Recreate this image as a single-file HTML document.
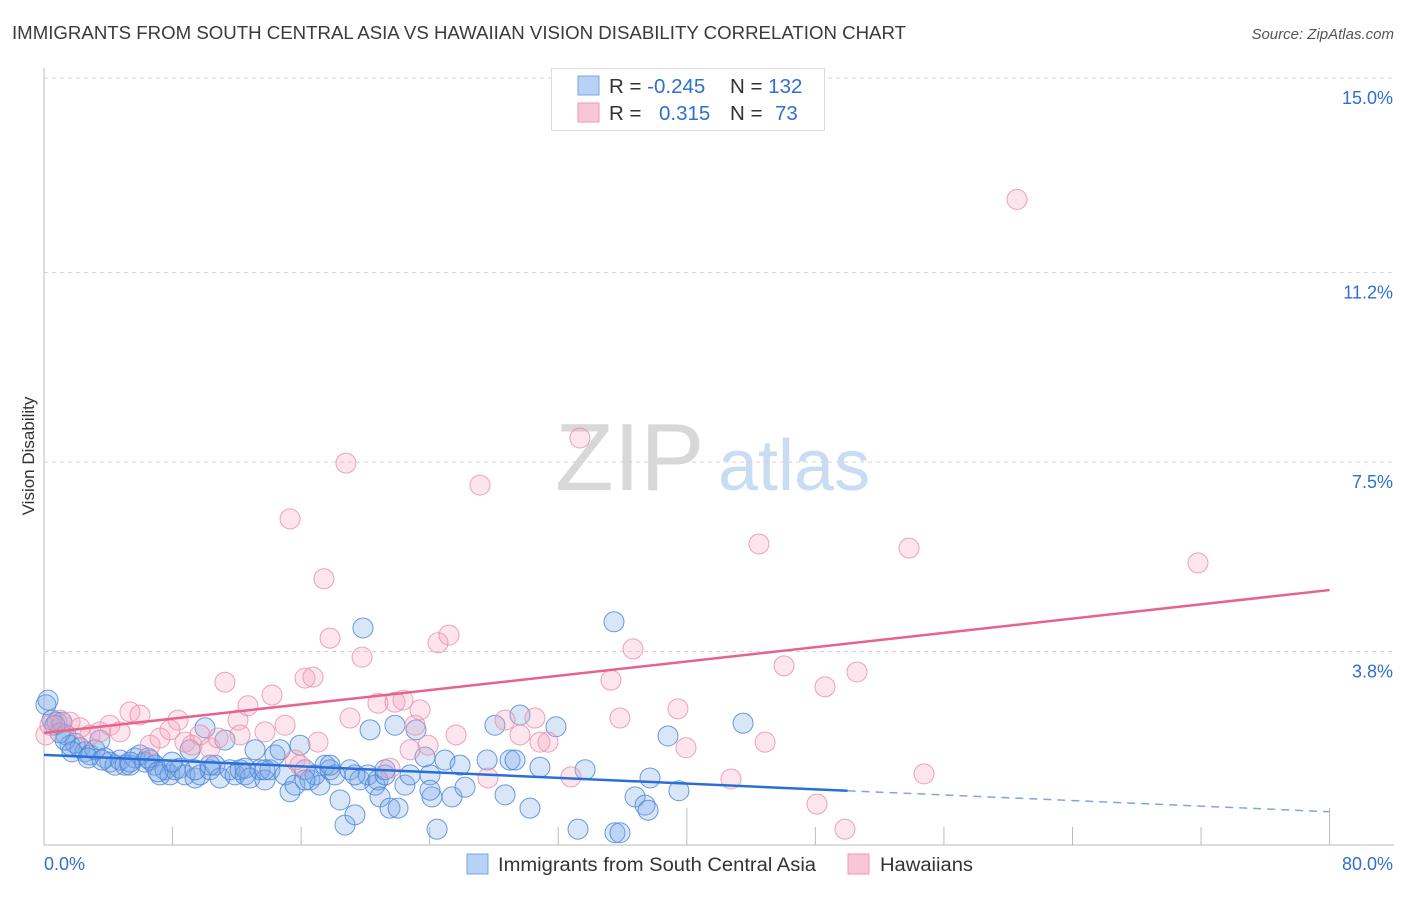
<!DOCTYPE html>
<html><head><meta charset="utf-8">
<style>
body{margin:0;background:#fff;font-family:"Liberation Sans",sans-serif;}
svg text{font-family:"Liberation Sans",sans-serif;}
</style></head>
<body>
<svg id="chart" width="1406" height="892" viewBox="0 0 1406 892">
<text x="12" y="39" font-size="18" fill="#3a3a3a" textLength="894" lengthAdjust="spacingAndGlyphs">IMMIGRANTS FROM SOUTH CENTRAL ASIA VS HAWAIIAN VISION DISABILITY CORRELATION CHART</text>
<text x="1394" y="39" font-size="15" fill="#555" font-style="italic" text-anchor="end">Source: ZipAtlas.com</text>
<g>
<text x="555" y="490" font-size="96" fill="#d8d8d8" font-family="Liberation Serif, serif">ZIP</text>
<text x="718" y="490" font-size="72" fill="#c9dcf3">atlas</text>
</g>
<g id="grid"></g>
<g id="axes"></g>
<text transform="translate(34,456) rotate(-90)" font-size="17" fill="#333" text-anchor="middle">Vision Disability</text>
<g id="pts"></g>
<g id="trend"></g>
<g>
<rect x="551.5" y="68.5" width="273" height="62" fill="#fff" stroke="#ddd"/>
<rect x="578" y="76" width="21" height="19" fill="#b7d2f5" stroke="#7aa6e0"/>
<rect x="578" y="103" width="21" height="19" fill="#f9c6d5" stroke="#eb9bb4"/>
<text x="609" y="93" font-size="20.5" fill="#333">R = <tspan fill="#2f6fd0">-0.245</tspan></text>
<text x="730" y="93" font-size="20.5" fill="#333">N = <tspan fill="#2f6fd0">132</tspan></text>
<text x="609" y="120" font-size="20.5" fill="#333">R = </text>
<text x="659" y="120" font-size="20.5" fill="#2f6fd0">0.315</text>
<text x="730" y="120" font-size="20.5" fill="#333">N = </text>
<text x="775" y="120" font-size="20.5" fill="#2f6fd0">73</text>
</g>
<g>
<rect x="467" y="854" width="21" height="20" fill="#b7d2f5" stroke="#7aa6e0"/>
<text x="498" y="871" font-size="19" fill="#333" textLength="318" lengthAdjust="spacingAndGlyphs">Immigrants from South Central Asia</text>
<rect x="848" y="854" width="21" height="20" fill="#f9c6d5" stroke="#eb9bb4"/>
<text x="880" y="871" font-size="19" fill="#333" textLength="93" lengthAdjust="spacingAndGlyphs">Hawaiians</text>
</g>
</svg>
<script>
const yTicks=[3.8,7.5,11.2,15.0];
const yTickLabels=["3.8%","7.5%","11.2%","15.0%"];
const xTicks=[0,8,16,24,32,40,48,56,64,72,80];
const xEndLabels=["0.0%","80.0%"];
const blueX=[0.12,0.5,0.81,1.12,1.37,1.62,1.93,2.24,2.55,2.86,3.17,3.48,3.8,4.1,4.42,4.73,5.04,5.35,5.66,5.97,6.28,6.6,6.9,7.22,7.53,7.84,8.15,8.46,8.77,9.09,9.4,9.71,10.02,10.33,10.64,10.95,11.26,11.57,11.89,12.2,12.51,12.82,13.13,13.44,13.75,14.06,14.37,14.69,15.0,15.31,15.62,15.93,16.24,16.55,16.86,17.17,17.49,17.8,18.11,18.42,18.73,19.04,19.35,19.66,19.85,20.16,20.29,20.6,20.78,20.91,21.22,21.53,21.84,22.03,22.46,22.78,23.15,23.71,24.02,24.14,24.46,24.95,25.39,25.89,26.2,27.57,28.06,28.69,29.0,29.31,29.62,30.24,30.86,31.86,33.23,33.67,35.47,35.53,35.84,36.78,37.4,37.59,37.71,38.83,39.51,43.5,0.25,0.68,1.0,1.31,1.74,2.74,3.61,5.35,6.47,7.09,7.97,9.4,10.33,12.51,13.75,16.24,17.8,19.35,21.22,24.02];
const blueY=[3.13,2.83,2.79,2.79,2.54,2.34,2.38,2.29,2.21,2.15,2.25,2.44,2.09,2.01,1.95,2.05,1.95,1.95,2.09,2.15,2.01,2.05,1.95,1.76,1.86,1.76,1.86,1.89,1.76,2.25,1.7,1.76,2.68,1.86,1.95,1.7,2.44,1.86,1.76,1.86,1.76,1.7,2.25,1.86,1.66,1.86,2.15,2.25,1.76,1.43,1.56,2.34,1.86,1.66,1.76,1.56,1.95,1.86,1.76,1.27,0.78,1.86,0.98,1.66,4.63,1.76,2.64,1.56,1.66,1.33,1.76,1.11,2.73,1.11,1.56,1.76,2.64,2.11,1.76,1.33,0.7,2.05,1.33,1.95,1.52,2.05,2.73,1.37,2.05,2.05,2.93,1.11,1.91,2.7,0.7,1.86,4.75,0.63,0.63,1.33,1.17,1.07,1.7,2.52,1.45,2.77,3.22,2.73,2.58,2.44,2.21,2.09,2.05,2.01,2.09,1.82,2.01,1.86,1.95,1.89,1.86,1.66,1.95,1.76,1.86,1.46];
const pinkX=[0.12,0.37,1.0,1.62,2.24,2.86,3.48,4.1,4.73,5.35,5.97,6.6,7.22,7.84,8.34,8.77,9.21,9.71,10.33,10.83,11.26,12.07,12.2,12.69,13.75,14.19,15.0,15.31,15.62,15.93,16.24,16.74,17.05,17.42,17.8,18.79,19.04,19.79,20.78,21.53,21.84,22.34,22.78,23.09,23.4,23.9,24.52,25.2,25.64,27.13,27.63,28.69,29.62,30.55,30.86,31.36,32.79,33.35,35.28,35.84,36.65,39.45,39.95,42.75,44.49,44.87,46.05,48.1,48.6,49.84,50.59,53.83,54.76,60.55,71.81];
const pinkY=[2.54,2.73,2.83,2.79,2.68,2.54,2.6,2.73,2.6,2.99,2.93,2.34,2.48,2.64,2.83,2.4,2.34,2.54,2.29,2.48,3.57,2.83,2.54,3.11,2.6,3.32,2.73,6.76,2.05,1.95,3.65,3.67,2.4,5.59,4.43,7.85,2.87,4.06,3.16,1.89,3.18,3.22,2.25,2.73,3.03,2.34,4.34,4.49,2.54,7.42,1.7,2.83,2.54,2.87,2.4,2.4,1.72,8.34,3.61,2.87,4.22,3.05,2.29,1.68,6.27,2.4,3.89,1.19,3.48,0.7,3.77,6.19,1.78,13.0,5.9];
const blueTrendX=[0,50,80];
const blueTrendY=[2.15,1.45,1.04];
const pinkTrendX=[0,80];
const pinkTrendY=[2.58,5.37];

const NS="http://www.w3.org/2000/svg";
const xS=v=>44+16.07*v;
const yS=v=>865-51.2*v;
function mk(tag,attrs,parent){const e=document.createElementNS(NS,tag);for(const k in attrs)e.setAttribute(k,attrs[k]);parent.appendChild(e);return e;}
const grid=document.getElementById('grid'),axes=document.getElementById('axes'),pts=document.getElementById('pts'),trend=document.getElementById('trend');
yTicks.forEach((t,i)=>{
  const l=mk('line',{x1:44,x2:1394,y1:yS(t)-19,y2:yS(t)-19,stroke:'#d5d5d5','stroke-dasharray':'4,4'},grid);
  
  
  const tx=mk('text',{x:1393,y:yS(t)+7,'font-size':18,fill:'#2f6fd0','text-anchor':'end'},grid);
  tx.textContent=yTickLabels[i];
  
  
});
const ax=mk('line',{x1:44,x2:44,y1:68,y2:845,stroke:'#bbb'},axes);


const bx=mk('line',{x1:44,x2:1394,y1:845,y2:845,stroke:'#bbb'},axes);


xTicks.forEach((t,i)=>{
  const tall=(i===5||i===10);
  const tk=mk('line',{x1:xS(t),x2:xS(t),y1:tall?808:827,y2:845,stroke:'#bbb'},axes);
  
  
});
const xl0=mk('text',{x:44,y:870,'font-size':18,fill:'#2f6fd0'},axes);xl0.textContent=xEndLabels[0];


const xl1=mk('text',{x:1393,y:870,'font-size':18,fill:'#2f6fd0','text-anchor':'end'},axes);xl1.textContent=xEndLabels[1];


blueX.forEach((x,i)=>{
  const c=mk('circle',{cx:xS(x),cy:yS(blueY[i]),r:10,fill:'rgba(120,165,230,0.28)',stroke:'rgba(70,130,215,0.8)','stroke-width':1},pts);
  
  
});
pinkX.forEach((x,i)=>{
  const c=mk('circle',{cx:xS(x),cy:yS(pinkY[i]),r:10,fill:'rgba(245,160,190,0.28)',stroke:'rgba(232,140,170,0.8)','stroke-width':1},pts);
  
  
});
const b1=mk('line',{x1:xS(blueTrendX[0]),y1:yS(blueTrendY[0]),x2:xS(blueTrendX[1]),y2:yS(blueTrendY[1]),stroke:'#2a6fd6','stroke-width':2.5},trend);


const b2=mk('line',{x1:xS(blueTrendX[1]),y1:yS(blueTrendY[1]),x2:xS(blueTrendX[2]),y2:yS(blueTrendY[2]),stroke:'#7fa6dd','stroke-width':1.5,'stroke-dasharray':'8,6'},trend);


const p1=mk('line',{x1:xS(pinkTrendX[0]),y1:yS(pinkTrendY[0]),x2:xS(pinkTrendX[1]),y2:yS(pinkTrendY[1]),stroke:'#e8628e','stroke-width':2.5},trend);


</script>
</body></html>
